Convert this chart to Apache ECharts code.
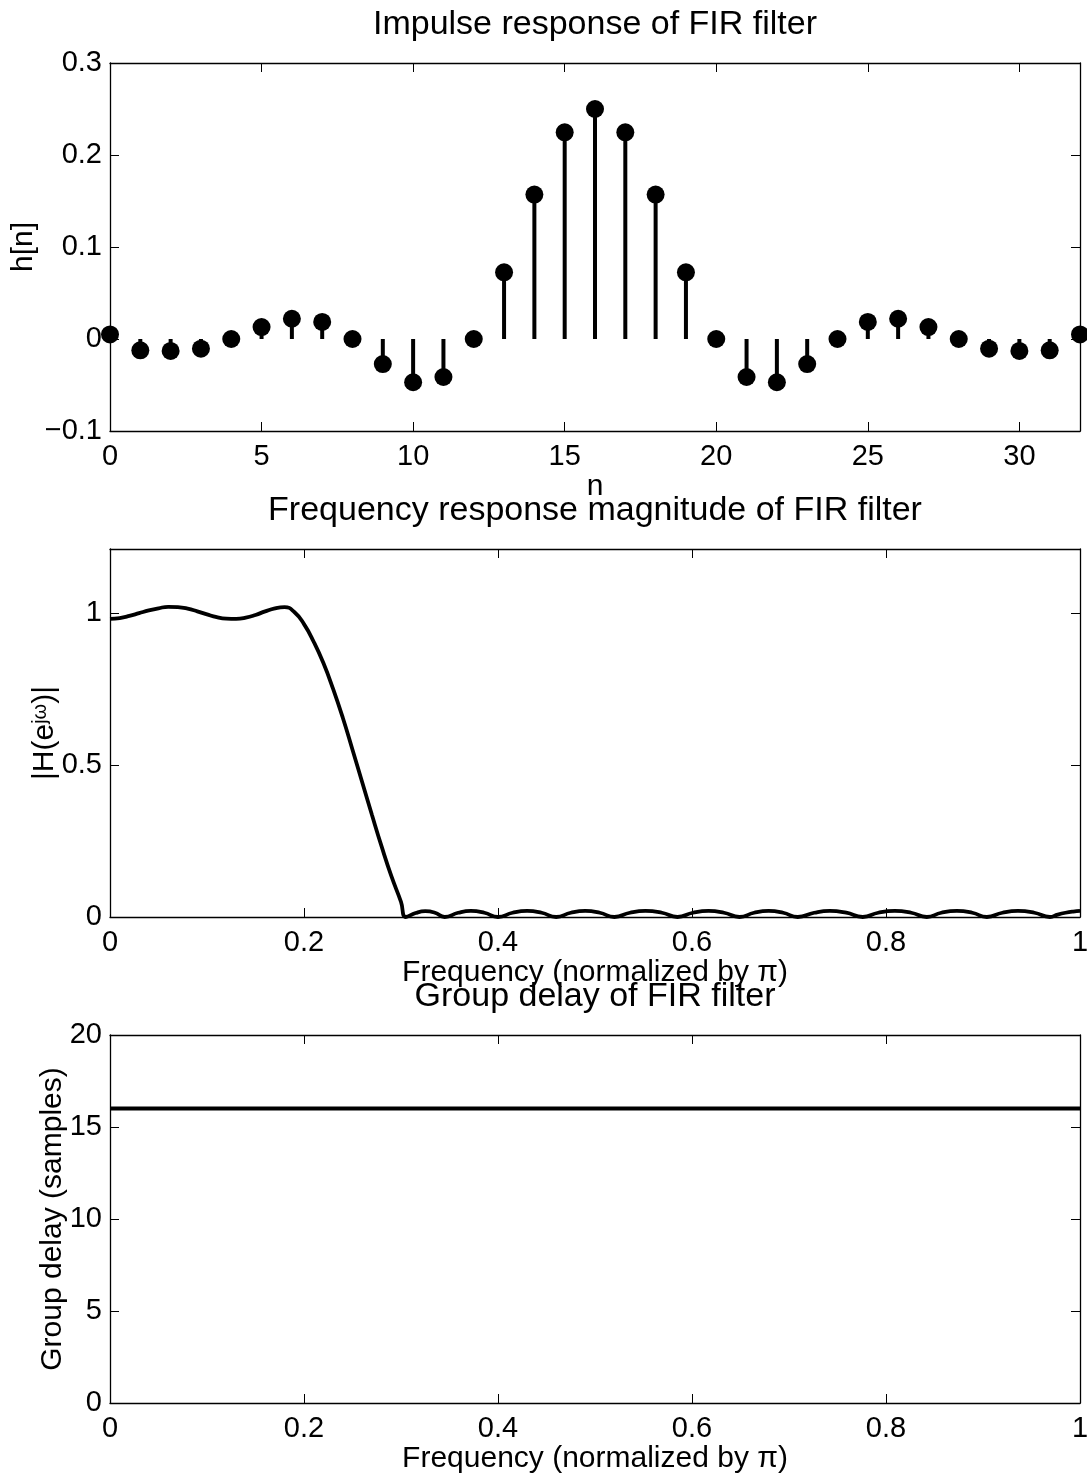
<!DOCTYPE html>
<html><head><meta charset="utf-8">
<script src="https://cdn.jsdelivr.net/npm/echarts@6/dist/echarts.min.js"></script>
<style>html,body{margin:0;padding:0;background:#fff}#c{width:1087px;height:1478px}</style>
</head><body><div id="c"></div>
<script>
// ---------- data ----------
const sampleIndex = [0,1,2,3,4,5,6,7,8,9,10,11,12,13,14,15,16,17,18,19,20,21,22,23,24,25,26,27,28,29,30,31,32];
const impulseResponse = [0.005,-0.0123,-0.013,-0.0105,0,0.013,0.022,0.0185,0,-0.0272,-0.047,-0.0413,0,0.0725,0.157,0.2247,0.25,
  0.2247,0.157,0.0725,0,-0.0413,-0.047,-0.0272,0,0.0185,0.022,0.013,0,-0.0105,-0.013,-0.0123,0.005];

const magFreq = [0,0.01,0.02,0.03,0.04,0.05,0.06,0.07,0.08,0.09,0.1,0.11,0.12,0.13,0.14,0.15,0.16,0.17,0.18,
  0.19,0.2,0.21,0.22,0.23,0.24,0.25,0.26,0.27,0.28,0.29,0.3,0.305,
  0.315,0.325,0.335,0.345,0.359,0.372,0.386,0.4,0.415,0.43,0.445,0.46,0.475,0.49,0.505,0.52,0.536,0.552,0.569,0.585,
  0.601,0.617,0.633,0.649,0.664,0.679,0.694,0.709,0.726,0.742,0.759,0.776,0.792,0.809,0.826,0.842,0.857,0.873,0.889,0.904,
  0.92,0.936,0.953,0.969,0.977,0.985,0.993,1.0];
const magValues = [0.98,0.983,0.99,0.999,1.008,1.015,1.02,1.019,1.014,1.005,0.995,0.986,0.981,0.98,0.984,0.993,1.005,1.015,1.019,
  1.003,0.963,0.905,0.835,0.75,0.655,0.55,0.443,0.336,0.232,0.135,0.05,0.0,
  0.013,0.019,0.014,0.0,0.014,0.02,0.014,0.0,0.014,0.02,0.014,0.0,0.014,0.02,0.014,0.0,0.014,0.02,0.014,0.0,
  0.014,0.02,0.014,0.0,0.014,0.02,0.014,0.0,0.014,0.02,0.014,0.0,0.014,0.02,0.014,0.0,0.014,0.02,0.014,0.0,
  0.014,0.02,0.014,0.0,0.008,0.014,0.018,0.02];

const delayFreq = [0,0.1,0.2,0.3,0.4,0.5,0.6,0.7,0.8,0.9,1.0];
const delayValues = [16,16,16,16,16,16,16,16,16,16,16];

const titles = ['Impulse response of FIR filter','Frequency response magnitude of FIR filter','Group delay of FIR filter'];
const xNames = ['n','Frequency (normalized by π)','Frequency (normalized by π)'];
const yNames = ['h[n]','|H(e{sup|jω})|','Group delay (samples)'];

// ---------- layout ----------
const FONT = 'Liberation Sans, Arial, Helvetica, sans-serif';
const grids = [
  {left:110, width:970, top:63, height:368, outerBoundsMode:'none', containLabel:false},
  {left:110, width:970, top:549, height:368, outerBoundsMode:'none', containLabel:false},
  {left:110, width:970, top:1035, height:368, outerBoundsMode:'none', containLabel:false}
];
const titleTops = [8, 494, 980];
const yNameGaps = [71, 50, 42];

function fmt(v){ let s = String(+(+v).toFixed(6)); return s.replace('-', '\u2212'); }

const tickStyle = {inside:true, length:9, lineStyle:{color:'#000', width:1}};
const lineStyleAx = {show:true, onZero:false, lineStyle:{color:'#000', width:1.3}};

function xPair(g, min, max, interval, name, showMax){
  return [
    {type:'value', gridIndex:g, min, max, interval, position:'bottom',
     axisLine:lineStyleAx, axisTick:tickStyle, splitLine:{show:false},
     axisLabel:{color:'#000', fontSize:29, fontFamily:FONT, margin:11, formatter:fmt, showMaxLabel:showMax, showMinLabel:true},
     name, nameLocation:'middle', nameGap:41, nameMoveOverlap:false,
     nameTextStyle:{color:'#000', fontSize:30, fontFamily:FONT}},
    {type:'value', gridIndex:g, min, max, interval, position:'top',
     axisLine:lineStyleAx, axisTick:tickStyle, splitLine:{show:false}, axisLabel:{show:false}}
  ];
}
function yPair(g, min, max, interval, name, gap, showMax){
  return [
    {type:'value', gridIndex:g, min, max, interval, position:'left',
     axisLine:lineStyleAx, axisTick:tickStyle, splitLine:{show:false},
     axisLabel:{color:'#000', fontSize:29, fontFamily:FONT, margin:8, formatter:fmt, showMaxLabel:showMax},
     name, nameLocation:'middle', nameGap:gap, nameMoveOverlap:false,
     nameTextStyle:{color:'#000', fontSize:30, fontFamily:FONT,
       rich:{sup:{fontSize:20, fontFamily:FONT, color:'#000', verticalAlign:'top', padding:[0,0,8,0]}}}},
    {type:'value', gridIndex:g, min, max, interval, position:'right',
     axisLine:lineStyleAx, axisTick:tickStyle, splitLine:{show:false}, axisLabel:{show:false}}
  ];
}

const option = {
  animation:false,
  backgroundColor:'#fff',
  title: titles.map((t,i)=>({text:t, left:595, textAlign:'center', top:titleTops[i], padding:0,
    textStyle:{color:'#000', fontSize:34, fontWeight:'normal', fontFamily:FONT}})),
  grid: grids,
  xAxis: [
    ...xPair(0, 0, 32, 5, xNames[0], false),
    ...xPair(1, 0, 1, 0.2, xNames[1], true),
    ...xPair(2, 0, 1, 0.2, xNames[2], true)
  ],
  yAxis: [
    ...yPair(0, -0.1, 0.3, 0.1, yNames[0], yNameGaps[0], true),
    ...yPair(1, 0, 1.21, 0.5, yNames[1], yNameGaps[1], false),
    ...yPair(2, 0, 20, 5, yNames[2], yNameGaps[2], true)
  ],
  series: [
    {type:'bar', xAxisIndex:0, yAxisIndex:0, barWidth:4, silent:true,
     itemStyle:{color:'#000'}, data: sampleIndex.map((n,i)=>[n, impulseResponse[i]])},
    {type:'scatter', xAxisIndex:0, yAxisIndex:0, symbol:'circle', symbolSize:18, clip:false, z:5, silent:true,
     itemStyle:{color:'#000', opacity:1}, data: sampleIndex.map((n,i)=>[n, impulseResponse[i]])},
    {type:'line', xAxisIndex:2, yAxisIndex:2, showSymbol:false, smooth:0.5, silent:true,
     lineStyle:{color:'#000', width:3.8}, data: magFreq.map((f,i)=>[f, magValues[i]])},
    {type:'line', xAxisIndex:4, yAxisIndex:4, showSymbol:false, silent:true,
     lineStyle:{color:'#000', width:4}, data: delayFreq.map((f,i)=>[f, delayValues[i]])}
  ]
};
const chart = echarts.init(document.getElementById('c'), null, {renderer:'canvas'});
chart.setOption(option);
</script>
</body></html>
